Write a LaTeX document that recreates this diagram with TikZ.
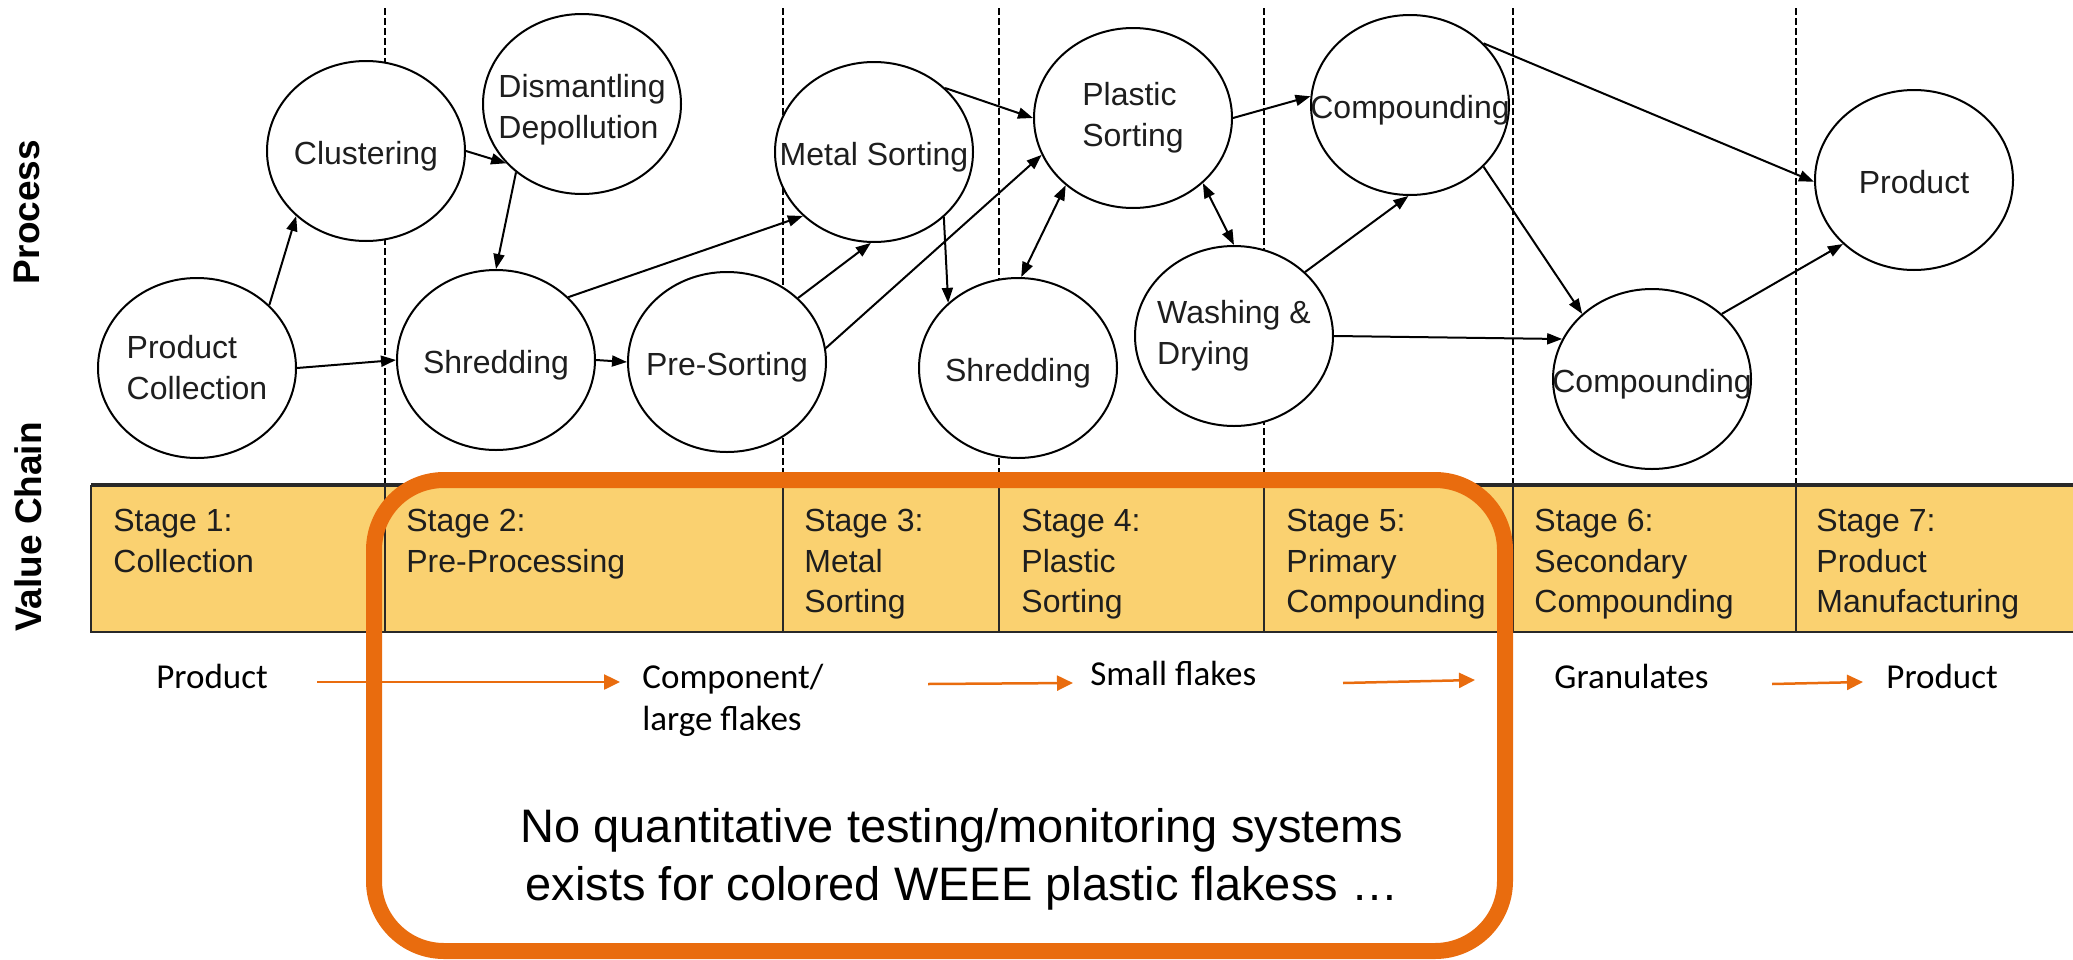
\documentclass[tikz,border=0pt]{standalone}
\usepackage{fontspec}
\setmainfont{Liberation Sans}
\newfontfamily\calfont{Carlito}
\usetikzlibrary{shapes.geometric,arrows.meta}
\definecolor{vcyellow}{RGB}{250,209,112}
\definecolor{vcorange}{RGB}{233,108,14}
\definecolor{txt}{RGB}{30,30,30}
\definecolor{boxline}{RGB}{40,40,40}
\begin{document}
\begin{tikzpicture}[x=0.5pt,y=-0.5pt,
  proc/.style={ellipse,draw=black,fill=white,line width=1pt,minimum width=99pt,minimum height=90pt,inner sep=-80pt,align=left,text=txt,font=\fontsize{16}{20.5}\selectfont},
  oneline/.style={text height=14pt,text depth=1pt},
  flow/.style={-{Triangle[length=7.5pt,width=5.5pt]},line width=1pt},
  flowboth/.style={{Triangle[length=7.5pt,width=5.5pt]}-{Triangle[length=7.5pt,width=5.5pt]},line width=1pt},
  divider/.style={dash pattern=on 3.5pt off 1.5pt,line width=0.75pt},
  stagetext/.style={anchor=north west,inner sep=0pt,align=left,text=txt,font=\fontsize{16}{20.25}\selectfont},
  flowlabel/.style={anchor=base west,inner sep=0pt,align=left,font=\calfont\fontsize{17.5}{21}\selectfont},
  oarrow/.style={-{Triangle[length=8pt,width=7.5pt]},line width=1.25pt,draw=vcorange},
  sidelabel/.style={rotate=90,inner sep=0pt,font=\bfseries\fontsize{18.5}{22}\selectfont},
]
\useasboundingbox (0,0) rectangle (2073,959);

% side labels
\node[sidelabel] (lproc) at (27,212) {Process};
\node[sidelabel] (lvc) at (28,527) {Value Chain};

% dashed stage separators
\foreach \xx in {385,783,999,1264,1513,1796}
  \draw[divider] (\xx,8) -- (\xx,485);

% value chain bar
\fill[vcyellow] (91,485) rectangle (2073,632);
\draw[boxline,line width=1pt] (91,485) -- (91,632) -- (2073,632);
\draw[boxline,line width=1.6pt] (91,485) -- (2073,485);
\foreach \xx in {385,783,999,1264,1513,1796}
  \draw[boxline,line width=0.8pt] (\xx,485) -- (\xx,632);

\node[stagetext] (s1) at (113,509) {Stage 1:\\Collection};
\node[stagetext] (s2) at (406,509) {Stage 2:\\Pre-Processing};
\node[stagetext] (s3) at (804,509) {Stage 3:\\Metal\\Sorting};
\node[stagetext] (s4) at (1021,509) {Stage 4:\\Plastic\\Sorting};
\node[stagetext] (s5) at (1286,509) {Stage 5:\\Primary\\Compounding};
\node[stagetext] (s6) at (1534,509) {Stage 6:\\Secondary\\Compounding};
\node[stagetext] (s7) at (1816,509) {Stage 7:\\Product\\Manufacturing};

% process nodes
\node[proc] (pc) at (197,368) {Product\\Collection};
\node[proc,oneline] (cl) at (366,151) {Clustering};
\node[proc] (dd) at (582,104) {\rule{0pt}{17pt}Dismantling\\Depollution};
\node[proc,oneline] (sh1) at (496,360) {Shredding};
\node[proc,oneline] (ps) at (727,362) {Pre-Sorting};
\node[proc,oneline] (ms) at (874,152) {Metal Sorting};
\node[proc,oneline] (sh2) at (1018,368) {Shredding};
\node[proc] (pls) at (1133,118) {Plastic\\Sorting};
\node[proc] (wd) at (1234,336) {Washing \&\\Drying};
\node[proc,oneline] (c1) at (1410,105) {Compounding};
\node[proc,oneline] (c2) at (1652,379) {Compounding};
\node[proc,oneline] (pr) at (1914,180) {Product};

% connectors
\draw[flow] (pc.41) -- (cl.223);
\draw[flow] (pc.0) -- (sh1.180);
\draw[flow] (cl.0) -- (dd.218);
\draw[flow] (dd.226) -- (sh1.90);
\draw[flow] (sh1.0) -- (ps.180);
\draw[flow] (sh1.41) -- (ms.222);
\draw[flow] (ps.42) -- (ms.268);
\draw[flow] (ps.8) -- (pls.202);
\draw[flow] (ms.42) -- (pls.180);
\draw[flow] (ms.317) -- (sh2.137);
\draw[flowboth] (sh2.88) -- (pls.225);
\draw[flowboth] (pls.317) -- (wd.90);
\draw[flow] (pls.0) -- (c1.175);
\draw[flow] (wd.42) -- (c1.269);
\draw[flow] (wd.0) -- (c2.156);
\draw[flow] (c1.40) -- (pr.181);
\draw[flow] (c1.320) -- (c2.137);
\draw[flow] (c2.43) -- (pr.222);

% material flow labels
\node[flowlabel] (lp1) at (156,688) {Product};
\node[flowlabel] (lcomp) at (642,730) {Component/\\large flakes};
\node[flowlabel] (lsf) at (1090,685) {Small flakes};
\node[flowlabel] (lgr) at (1554,688) {Granulates};
\node[flowlabel] (lp2) at (1886,688) {Product};

\coordinate (a1s) at (317,682); \coordinate (a1e) at (620,682);
\coordinate (a2s) at (928,684); \coordinate (a2e) at (1073,683);
\coordinate (a3s) at (1343,683); \coordinate (a3e) at (1475,680);
\coordinate (a4s) at (1772,684); \coordinate (a4e) at (1863,682);
\draw[oarrow] (a1s) -- (a1e);
\draw[oarrow] (a2s) -- (a2e);
\draw[oarrow] (a3s) -- (a3e);
\draw[oarrow] (a4s) -- (a4e);

% highlight frame
\node[draw=vcorange,line width=8pt,rounded corners=35pt,inner sep=0pt,
      minimum width=565.5pt,minimum height=235.5pt] (focus) at (939.5,715.5) {};

\node[anchor=base,align=center,inner sep=0pt,font=\fontsize{23.5}{29}\selectfont] (note) at (962,900)
  {No quantitative testing/monitoring systems\\exists for colored WEEE plastic flakess …};
\end{tikzpicture}
\end{document}
